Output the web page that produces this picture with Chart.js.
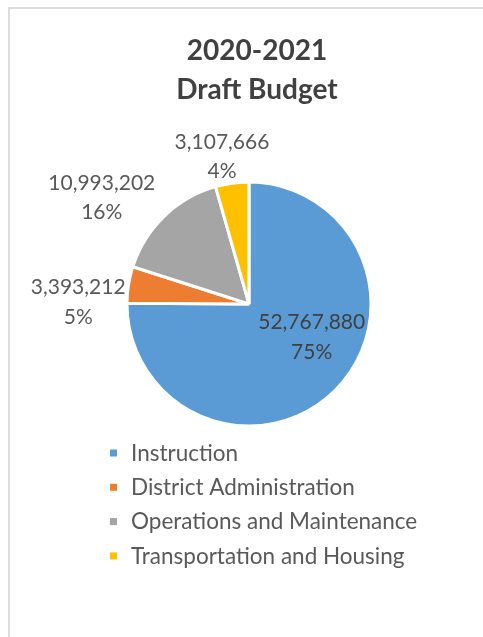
<!DOCTYPE html>
<html>
<head>
<meta charset="utf-8">
<title>2020-2021 Draft Budget</title>
<script src="https://cdn.jsdelivr.net/npm/chart.js@4.4.0/dist/chart.umd.min.js"></script>
<style>
    html, body { margin: 0; padding: 0; background: #fff; }
    #wrap { position: relative; width: 483px; height: 637px; overflow: hidden; }
    #frame {
        position: absolute; left: 8px; top: 7px; width: 490px; height: 640px;
        border-left: 2px solid #dcdcdc; border-top: 2px solid #dcdcdc;
        pointer-events: none;
    }
    canvas { position: absolute; left: 0; top: 0; }
</style>
</head>
<body>
<div id="wrap">
    <canvas id="budgetChart" width="483" height="637"></canvas>
    <div id="frame"></div>
</div>
<script>
// Budget lines and their amounts
const categories = ["Instruction", "District Administration", "Operations and Maintenance", "Transportation and Housing"];
const amounts = [52767880, 3393212, 10993202, 3107666];
const sliceColors = ["#5b9bd5", "#ed7d31", "#a5a5a5", "#ffc000"];

const textColor = "#595959";
const fontFamily = "Lato, 'Open Sans', sans-serif";

// where each value label sits: angle nudge (deg) from the slice middle, distance in radii
const labelSpots = [
    { turn: -17.6, dist: 0.58, color: "#404040" },
    { turn: -8.4, dist: 1.40 },
    { turn: -10, dist: 1.49 },
    { turn: -2.4, dist: 1.23 }
];

// "52,767,880" over "75%"
const valueLabels = {
    id: "valueLabels",
    afterDatasetsDraw(chart) {
        const ctx = chart.ctx;
        const data = chart.data.datasets[0].data;
        const total = data.reduce((a, b) => a + b, 0);
        ctx.save();
        ctx.font = "21px " + fontFamily;
        ctx.textAlign = "center";
        ctx.textBaseline = "middle";
        chart.getDatasetMeta(0).data.forEach((arc, i) => {
            const p = arc.getProps(["x", "y", "startAngle", "endAngle", "outerRadius"], true);
            const spot = labelSpots[i];
            const ang = (p.startAngle + p.endAngle) / 2 + spot.turn * Math.PI / 180;
            const cx = p.x + Math.cos(ang) * p.outerRadius * spot.dist;
            const cy = p.y + Math.sin(ang) * p.outerRadius * spot.dist;
            const pct = Math.round(data[i] / total * 100) + "%";
            ctx.fillStyle = spot.color || textColor;
            ctx.fillText(data[i].toLocaleString("en-US"), cx, cy - 14.5);
            ctx.fillText(pct, cx, cy + 15);
        });
        ctx.restore();
    }
};

// single-column legend under the pie
const columnLegend = {
    id: "columnLegend",
    afterDraw(chart) {
        const ctx = chart.ctx;
        const area = chart.chartArea;
        const colors = chart.data.datasets[0].backgroundColor;
        ctx.save();
        ctx.font = "22.5px " + fontFamily;
        ctx.textBaseline = "middle";
        chart.data.labels.forEach((name, i) => {
            const y = area.bottom + 24.5 + i * 34.3;
            ctx.fillStyle = colors[i];
            ctx.fillRect(area.left - 15, y - 3, 7, 7);
            ctx.fillStyle = textColor;
            ctx.fillText(name, area.left + 6, y + 1);
        });
        ctx.restore();
    },
    // the title is centred on the whole chart frame, a little right of the pie
    afterLayout(chart) {
        const t = chart.titleBlock;
        if (t) {
            t.left += 8;
            t.right += 8;
        }
    }
};

const ctx = document.getElementById("budgetChart").getContext("2d");
const budgetChart = new Chart(ctx, {
    type: "pie",
    data: {
        labels: categories,
        datasets: [{
            data: amounts,
            backgroundColor: sliceColors,
            borderColor: "#ffffff",
            borderWidth: 3
        }]
    },
    options: {
        responsive: false,
        animation: false,
        events: [],
        radius: 122,
        layout: {
            padding: { left: 125, right: 110, top: 0, bottom: 209 }
        },
        plugins: {
            legend: { display: false },
            tooltip: { enabled: false },
            title: {
                display: true,
                text: ["2020-2021", "Draft Budget"],
                color: "#404040",
                font: { family: fontFamily, size: 28, weight: "bold", lineHeight: "39px" },
                padding: { top: 31, bottom: 71 }
            }
        }
    },
    plugins: [valueLabels, columnLegend]
});
</script>
</body>
</html>
